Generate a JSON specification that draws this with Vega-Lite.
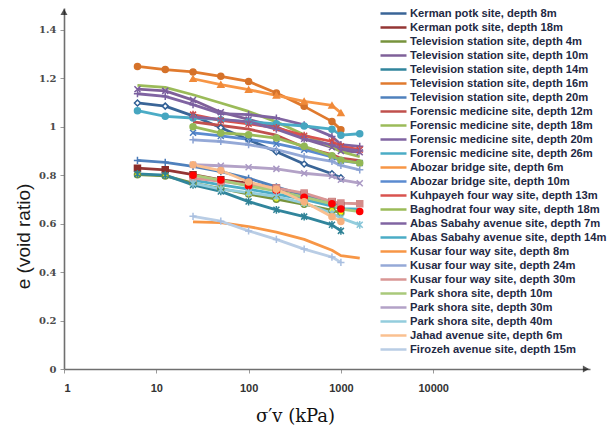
{
  "$schema": "https://vega.github.io/schema/vega-lite/v6.json",
  "autosize": {"type": "none"},
  "width": 526,
  "height": 361,
  "padding": {"left": 64, "top": 8, "right": 20, "bottom": 61},
  "background": "white",
  "config": {"view": {"stroke": null}},
  "data": {"values": [
    {"s":"Kerman potk site, depth 8m","p":6.25,"e":1.098},{"s":"Kerman potk site, depth 8m","p":12.5,"e":1.085},{"s":"Kerman potk site, depth 8m","p":25,"e":1.045},{"s":"Kerman potk site, depth 8m","p":50,"e":0.996},{"s":"Kerman potk site, depth 8m","p":100,"e":0.946},{"s":"Kerman potk site, depth 8m","p":200,"e":0.897},{"s":"Kerman potk site, depth 8m","p":400,"e":0.846},{"s":"Kerman potk site, depth 8m","p":800,"e":0.806},{"s":"Kerman potk site, depth 8m","p":1000,"e":0.789},
    {"s":"Kerman potk site, depth 18m","p":6.25,"e":0.829},{"s":"Kerman potk site, depth 18m","p":12.5,"e":0.822},{"s":"Kerman potk site, depth 18m","p":25,"e":0.802},{"s":"Kerman potk site, depth 18m","p":50,"e":0.781},{"s":"Kerman potk site, depth 18m","p":100,"e":0.767},{"s":"Kerman potk site, depth 18m","p":200,"e":0.747},{"s":"Kerman potk site, depth 18m","p":400,"e":0.72},{"s":"Kerman potk site, depth 18m","p":800,"e":0.69},{"s":"Kerman potk site, depth 18m","p":1000,"e":0.675},
    {"s":"Television station site, depth 4m","p":6.25,"e":0.802},{"s":"Television station site, depth 4m","p":12.5,"e":0.797},{"s":"Television station site, depth 4m","p":25,"e":0.767},{"s":"Television station site, depth 4m","p":50,"e":0.745},{"s":"Television station site, depth 4m","p":100,"e":0.722},{"s":"Television station site, depth 4m","p":200,"e":0.701},{"s":"Television station site, depth 4m","p":400,"e":0.68},{"s":"Television station site, depth 4m","p":800,"e":0.655},{"s":"Television station site, depth 4m","p":1000,"e":0.645},
    {"s":"Television station site, depth 10m","p":6.25,"e":1.155},{"s":"Television station site, depth 10m","p":12.5,"e":1.148},{"s":"Television station site, depth 10m","p":25,"e":1.11},{"s":"Television station site, depth 10m","p":50,"e":1.06},{"s":"Television station site, depth 10m","p":100,"e":1.03},{"s":"Television station site, depth 10m","p":200,"e":1.0},{"s":"Television station site, depth 10m","p":400,"e":0.95},{"s":"Television station site, depth 10m","p":800,"e":0.915},{"s":"Television station site, depth 10m","p":1000,"e":0.9},{"s":"Television station site, depth 10m","p":1600,"e":0.895},
    {"s":"Television station site, depth 14m","p":6.25,"e":0.805},{"s":"Television station site, depth 14m","p":12.5,"e":0.8},{"s":"Television station site, depth 14m","p":25,"e":0.76},{"s":"Television station site, depth 14m","p":50,"e":0.733},{"s":"Television station site, depth 14m","p":100,"e":0.691},{"s":"Television station site, depth 14m","p":200,"e":0.657},{"s":"Television station site, depth 14m","p":400,"e":0.629},{"s":"Television station site, depth 14m","p":800,"e":0.595},{"s":"Television station site, depth 14m","p":1000,"e":0.57},
    {"s":"Television station site, depth 16m","p":6.25,"e":1.249},{"s":"Television station site, depth 16m","p":12.5,"e":1.236},{"s":"Television station site, depth 16m","p":25,"e":1.226},{"s":"Television station site, depth 16m","p":50,"e":1.208},{"s":"Television station site, depth 16m","p":100,"e":1.187},{"s":"Television station site, depth 16m","p":200,"e":1.139},{"s":"Television station site, depth 16m","p":400,"e":1.084},{"s":"Television station site, depth 16m","p":800,"e":1.022},{"s":"Television station site, depth 16m","p":1000,"e":0.988},
    {"s":"Television station site, depth 20m","p":6.25,"e":0.861},{"s":"Television station site, depth 20m","p":12.5,"e":0.853},{"s":"Television station site, depth 20m","p":25,"e":0.836},{"s":"Television station site, depth 20m","p":50,"e":0.815},{"s":"Television station site, depth 20m","p":100,"e":0.787},{"s":"Television station site, depth 20m","p":200,"e":0.752},{"s":"Television station site, depth 20m","p":400,"e":0.717},{"s":"Television station site, depth 20m","p":800,"e":0.683},{"s":"Television station site, depth 20m","p":1000,"e":0.668},
    {"s":"Forensic medicine site, depth 12m","p":25,"e":1.02},{"s":"Forensic medicine site, depth 12m","p":50,"e":1.005},{"s":"Forensic medicine site, depth 12m","p":100,"e":0.99},{"s":"Forensic medicine site, depth 12m","p":200,"e":0.965},{"s":"Forensic medicine site, depth 12m","p":400,"e":0.915},{"s":"Forensic medicine site, depth 12m","p":800,"e":0.885},{"s":"Forensic medicine site, depth 12m","p":1000,"e":0.87},{"s":"Forensic medicine site, depth 12m","p":1600,"e":0.86},
    {"s":"Forensic medicine site, depth 18m","p":6.25,"e":1.171},{"s":"Forensic medicine site, depth 18m","p":12.5,"e":1.162},{"s":"Forensic medicine site, depth 18m","p":25,"e":1.132},{"s":"Forensic medicine site, depth 18m","p":50,"e":1.098},{"s":"Forensic medicine site, depth 18m","p":100,"e":1.063},{"s":"Forensic medicine site, depth 18m","p":200,"e":1.02},{"s":"Forensic medicine site, depth 18m","p":400,"e":0.967},{"s":"Forensic medicine site, depth 18m","p":800,"e":0.917},{"s":"Forensic medicine site, depth 18m","p":1000,"e":0.897},{"s":"Forensic medicine site, depth 18m","p":1600,"e":0.876},
    {"s":"Forensic medicine site, depth 20m","p":6.25,"e":1.136},{"s":"Forensic medicine site, depth 20m","p":12.5,"e":1.125},{"s":"Forensic medicine site, depth 20m","p":25,"e":1.091},{"s":"Forensic medicine site, depth 20m","p":50,"e":1.054},{"s":"Forensic medicine site, depth 20m","p":100,"e":1.05},{"s":"Forensic medicine site, depth 20m","p":200,"e":1.036},{"s":"Forensic medicine site, depth 20m","p":400,"e":1.008},{"s":"Forensic medicine site, depth 20m","p":800,"e":0.96},{"s":"Forensic medicine site, depth 20m","p":1000,"e":0.926},{"s":"Forensic medicine site, depth 20m","p":1600,"e":0.919},
    {"s":"Forensic medicine site, depth 26m","p":6.25,"e":1.066},{"s":"Forensic medicine site, depth 26m","p":12.5,"e":1.043},{"s":"Forensic medicine site, depth 26m","p":25,"e":1.036},{"s":"Forensic medicine site, depth 26m","p":50,"e":1.029},{"s":"Forensic medicine site, depth 26m","p":100,"e":1.02},{"s":"Forensic medicine site, depth 26m","p":200,"e":1.012},{"s":"Forensic medicine site, depth 26m","p":400,"e":1.003},{"s":"Forensic medicine site, depth 26m","p":800,"e":0.99},{"s":"Forensic medicine site, depth 26m","p":1000,"e":0.965},{"s":"Forensic medicine site, depth 26m","p":1600,"e":0.971},
    {"s":"Abozar bridge site, depth 6m","p":25,"e":1.198},{"s":"Abozar bridge site, depth 6m","p":50,"e":1.174},{"s":"Abozar bridge site, depth 6m","p":100,"e":1.153},{"s":"Abozar bridge site, depth 6m","p":200,"e":1.129},{"s":"Abozar bridge site, depth 6m","p":400,"e":1.105},{"s":"Abozar bridge site, depth 6m","p":800,"e":1.088},{"s":"Abozar bridge site, depth 6m","p":1000,"e":1.057},
    {"s":"Abozar bridge site, depth 10m","p":25,"e":0.975},{"s":"Abozar bridge site, depth 10m","p":50,"e":0.962},{"s":"Abozar bridge site, depth 10m","p":100,"e":0.948},{"s":"Abozar bridge site, depth 10m","p":200,"e":0.93},{"s":"Abozar bridge site, depth 10m","p":400,"e":0.905},{"s":"Abozar bridge site, depth 10m","p":800,"e":0.875},{"s":"Abozar bridge site, depth 10m","p":1000,"e":0.86},{"s":"Abozar bridge site, depth 10m","p":1600,"e":0.85},
    {"s":"Kuhpayeh four way site, depth 13m","p":25,"e":1.05},{"s":"Kuhpayeh four way site, depth 13m","p":50,"e":1.026},{"s":"Kuhpayeh four way site, depth 13m","p":100,"e":1.012},{"s":"Kuhpayeh four way site, depth 13m","p":200,"e":0.995},{"s":"Kuhpayeh four way site, depth 13m","p":400,"e":0.963},{"s":"Kuhpayeh four way site, depth 13m","p":800,"e":0.939},{"s":"Kuhpayeh four way site, depth 13m","p":1000,"e":0.919},{"s":"Kuhpayeh four way site, depth 13m","p":1600,"e":0.905},
    {"s":"Baghodrat four way site, depth 18m","p":25,"e":1.0},{"s":"Baghodrat four way site, depth 18m","p":50,"e":0.974},{"s":"Baghodrat four way site, depth 18m","p":100,"e":0.967},{"s":"Baghodrat four way site, depth 18m","p":200,"e":0.953},{"s":"Baghodrat four way site, depth 18m","p":400,"e":0.919},{"s":"Baghodrat four way site, depth 18m","p":800,"e":0.88},{"s":"Baghodrat four way site, depth 18m","p":1000,"e":0.862},{"s":"Baghodrat four way site, depth 18m","p":1600,"e":0.85},
    {"s":"Abas Sabahy avenue site, depth 7m","p":25,"e":1.04},{"s":"Abas Sabahy avenue site, depth 7m","p":50,"e":1.03},{"s":"Abas Sabahy avenue site, depth 7m","p":100,"e":1.02},{"s":"Abas Sabahy avenue site, depth 7m","p":200,"e":0.99},{"s":"Abas Sabahy avenue site, depth 7m","p":400,"e":0.95},{"s":"Abas Sabahy avenue site, depth 7m","p":800,"e":0.925},{"s":"Abas Sabahy avenue site, depth 7m","p":1000,"e":0.91},{"s":"Abas Sabahy avenue site, depth 7m","p":1600,"e":0.9},
    {"s":"Abas Sabahy avenue site, depth 14m","p":25,"e":0.78},{"s":"Abas Sabahy avenue site, depth 14m","p":50,"e":0.76},{"s":"Abas Sabahy avenue site, depth 14m","p":100,"e":0.742},{"s":"Abas Sabahy avenue site, depth 14m","p":200,"e":0.722},{"s":"Abas Sabahy avenue site, depth 14m","p":400,"e":0.7},{"s":"Abas Sabahy avenue site, depth 14m","p":800,"e":0.672},{"s":"Abas Sabahy avenue site, depth 14m","p":1000,"e":0.662},{"s":"Abas Sabahy avenue site, depth 14m","p":1600,"e":0.66},
    {"s":"Kusar four way site, depth 8m","p":25,"e":0.607},{"s":"Kusar four way site, depth 8m","p":50,"e":0.604},{"s":"Kusar four way site, depth 8m","p":100,"e":0.588},{"s":"Kusar four way site, depth 8m","p":200,"e":0.565},{"s":"Kusar four way site, depth 8m","p":400,"e":0.535},{"s":"Kusar four way site, depth 8m","p":800,"e":0.49},{"s":"Kusar four way site, depth 8m","p":1000,"e":0.468},{"s":"Kusar four way site, depth 8m","p":1600,"e":0.458},
    {"s":"Kusar four way site, depth 24m","p":25,"e":0.946},{"s":"Kusar four way site, depth 24m","p":50,"e":0.939},{"s":"Kusar four way site, depth 24m","p":100,"e":0.926},{"s":"Kusar four way site, depth 24m","p":200,"e":0.905},{"s":"Kusar four way site, depth 24m","p":400,"e":0.877},{"s":"Kusar four way site, depth 24m","p":800,"e":0.857},{"s":"Kusar four way site, depth 24m","p":1000,"e":0.84},{"s":"Kusar four way site, depth 24m","p":1600,"e":0.822},
    {"s":"Kusar four way site, depth 30m","p":25,"e":0.788},{"s":"Kusar four way site, depth 30m","p":50,"e":0.774},{"s":"Kusar four way site, depth 30m","p":100,"e":0.76},{"s":"Kusar four way site, depth 30m","p":200,"e":0.747},{"s":"Kusar four way site, depth 30m","p":400,"e":0.726},{"s":"Kusar four way site, depth 30m","p":800,"e":0.691},{"s":"Kusar four way site, depth 30m","p":1000,"e":0.685},{"s":"Kusar four way site, depth 30m","p":1600,"e":0.682},
    {"s":"Park shora site, depth 10m","p":25,"e":0.8},{"s":"Park shora site, depth 10m","p":50,"e":0.78},{"s":"Park shora site, depth 10m","p":100,"e":0.755},{"s":"Park shora site, depth 10m","p":200,"e":0.735},{"s":"Park shora site, depth 10m","p":400,"e":0.709},{"s":"Park shora site, depth 10m","p":800,"e":0.682},{"s":"Park shora site, depth 10m","p":1000,"e":0.66},{"s":"Park shora site, depth 10m","p":1600,"e":0.65},
    {"s":"Park shora site, depth 30m","p":25,"e":0.843},{"s":"Park shora site, depth 30m","p":50,"e":0.839},{"s":"Park shora site, depth 30m","p":100,"e":0.833},{"s":"Park shora site, depth 30m","p":200,"e":0.826},{"s":"Park shora site, depth 30m","p":400,"e":0.808},{"s":"Park shora site, depth 30m","p":800,"e":0.797},{"s":"Park shora site, depth 30m","p":1000,"e":0.781},{"s":"Park shora site, depth 30m","p":1600,"e":0.767},
    {"s":"Park shora site, depth 40m","p":25,"e":0.767},{"s":"Park shora site, depth 40m","p":50,"e":0.742},{"s":"Park shora site, depth 40m","p":100,"e":0.728},{"s":"Park shora site, depth 40m","p":200,"e":0.712},{"s":"Park shora site, depth 40m","p":400,"e":0.685},{"s":"Park shora site, depth 40m","p":800,"e":0.643},{"s":"Park shora site, depth 40m","p":1000,"e":0.623},{"s":"Park shora site, depth 40m","p":1600,"e":0.595},
    {"s":"Jahad avenue site, depth 6m","p":25,"e":0.843},{"s":"Jahad avenue site, depth 6m","p":50,"e":0.819},{"s":"Jahad avenue site, depth 6m","p":100,"e":0.772},{"s":"Jahad avenue site, depth 6m","p":200,"e":0.742},{"s":"Jahad avenue site, depth 6m","p":400,"e":0.69},{"s":"Jahad avenue site, depth 6m","p":800,"e":0.628},{"s":"Jahad avenue site, depth 6m","p":1000,"e":0.609},
    {"s":"Firozeh avenue site, depth 15m","p":25,"e":0.63},{"s":"Firozeh avenue site, depth 15m","p":50,"e":0.61},{"s":"Firozeh avenue site, depth 15m","p":100,"e":0.57},{"s":"Firozeh avenue site, depth 15m","p":200,"e":0.535},{"s":"Firozeh avenue site, depth 15m","p":400,"e":0.495},{"s":"Firozeh avenue site, depth 15m","p":800,"e":0.462},{"s":"Firozeh avenue site, depth 15m","p":1000,"e":0.44}
  ]},
  "layer": [
    {
      "mark": {"type": "line", "strokeWidth": 2.8, "strokeJoin": "round"},
      "encoding": {
        "x": {"field": "p", "type": "quantitative",
          "scale": {"type": "log", "domain": [1, 500000], "nice": false},
          "axis": {"values": [1, 10, 100, 1000, 10000], "format": "d", "grid": false,
            "domainColor": "#6f6f6f", "domainWidth": 1.6, "tickColor": "#9a9a9a", "tickSize": 4,
            "labelFont": "Liberation Sans", "labelFontWeight": "bold", "labelFontSize": 11, "labelColor": "#333333", "labelPadding": 9,
            "title": "σ′v (kPa)", "titleFont": "DejaVu Serif", "titleFontSize": 18, "titleFontWeight": "normal", "titleColor": "#111111",
            "titleX": 231, "titleY": 47, "titleAlign": "center", "titleBaseline": "middle"}},
        "y": {"field": "e", "type": "quantitative",
          "scale": {"domain": [0, 1.49], "nice": false, "zero": true},
          "axis": {"values": [0, 0.2, 0.4, 0.6, 0.8, 1, 1.2, 1.4], "format": "~g", "grid": false,
            "domainColor": "#6f6f6f", "domainWidth": 1.6, "tickColor": "#9a9a9a", "tickSize": 4,
            "labelFont": "DejaVu Serif", "labelFontWeight": "bold", "labelFontSize": 10, "labelColor": "#4a4a4a", "labelPadding": 4,
            "title": "e (void ratio)", "titleFont": "Liberation Sans", "titleFontSize": 19, "titleFontWeight": "normal", "titleColor": "#1a1a1a",
            "titleX": -41, "titleY": 228, "titleAngle": 270, "titleAlign": "center", "titleBaseline": "middle"}},
        "color": {"field": "s", "type": "nominal",
          "scale": {
            "domain": ["Kerman potk site, depth 8m","Kerman potk site, depth 18m","Television station site, depth 4m","Television station site, depth 10m","Television station site, depth 14m","Television station site, depth 16m","Television station site, depth 20m","Forensic medicine site, depth 12m","Forensic medicine site, depth 18m","Forensic medicine site, depth 20m","Forensic medicine site, depth 26m","Abozar bridge site, depth 6m","Abozar bridge site, depth 10m","Kuhpayeh four way site, depth 13m","Baghodrat four way site, depth 18m","Abas Sabahy avenue site, depth 7m","Abas Sabahy avenue site, depth 14m","Kusar four way site, depth 8m","Kusar four way site, depth 24m","Kusar four way site, depth 30m","Park shora site, depth 10m","Park shora site, depth 30m","Park shora site, depth 40m","Jahad avenue site, depth 6m","Firozeh avenue site, depth 15m"],
            "range": ["#3A6597","#943634","#77933C","#7F6099","#31859C","#E07A2E","#4F81BD","#C0504D","#9BBB59","#8064A2","#4BACC6","#F79646","#5B8BD0","#D9534F","#9BBB59","#8064A2","#4BACC6","#F79646","#95A9D7","#D99694","#A9C97A","#B3A2C7","#93CDDD","#FAC090","#B9CDE5"]},
          "legend": {"orient": "none", "legendX": 323, "legendY": -1, "title": null, "padding": 0, "offset": 0,
            "symbolType": "M-2.6,0L2.6,0", "symbolSize": 100, "symbolStrokeWidth": 2.5,
            "labelFont": "Liberation Sans", "labelFontSize": 11.2, "labelFontWeight": "bold", "labelColor": "#1F2A44",
            "labelLimit": 300, "labelOffset": 10, "rowPadding": 2}}
      }
    },
    {
      "transform": [{"filter": {"field": "s", "oneOf": ["Kerman potk site, depth 8m","Kerman potk site, depth 18m","Television station site, depth 4m","Television station site, depth 10m","Television station site, depth 14m","Television station site, depth 16m","Television station site, depth 20m","Forensic medicine site, depth 20m","Forensic medicine site, depth 26m","Abozar bridge site, depth 6m","Abozar bridge site, depth 10m","Kuhpayeh four way site, depth 13m","Baghodrat four way site, depth 18m","Abas Sabahy avenue site, depth 7m","Kusar four way site, depth 24m","Kusar four way site, depth 30m","Park shora site, depth 10m","Park shora site, depth 30m","Park shora site, depth 40m","Jahad avenue site, depth 6m","Firozeh avenue site, depth 15m"]}}],
      "mark": {"type": "point", "filled": true, "size": 36, "strokeWidth": 1.5, "opacity": 1},
      "encoding": {
        "x": {"field": "p", "type": "quantitative"},
        "y": {"field": "e", "type": "quantitative"},
        "shape": {"field": "s", "type": "nominal", "legend": null,
          "scale": {"domain": ["Kerman potk site, depth 8m","Kerman potk site, depth 18m","Television station site, depth 4m","Television station site, depth 10m","Television station site, depth 14m","Television station site, depth 16m","Television station site, depth 20m","Forensic medicine site, depth 20m","Forensic medicine site, depth 26m","Abozar bridge site, depth 6m","Abozar bridge site, depth 10m","Kuhpayeh four way site, depth 13m","Baghodrat four way site, depth 18m","Abas Sabahy avenue site, depth 7m","Kusar four way site, depth 24m","Kusar four way site, depth 30m","Park shora site, depth 10m","Park shora site, depth 30m","Park shora site, depth 40m","Jahad avenue site, depth 6m","Firozeh avenue site, depth 15m"],
            "range": ["diamond","square","circle","M-1,-1L1,1M-1,1L1,-1","M-1,-1L1,1M-1,1L1,-1M0,-1.3L0,1.3","circle","M-1.2,0L1.2,0M0,-1.2L0,1.2","M-1.2,0L1.2,0M0,-1.2L0,1.2","circle","triangle-up","M-1,-1L1,1M-1,1L1,-1","M-1,-1L1,1M-1,1L1,-1M0,-1.3L0,1.3","circle","M-1.2,0L1.2,0M0,-1.2L0,1.2","M-1.2,0L1.2,0M0,-1.2L0,1.2","square","circle","M-1,-1L1,1M-1,1L1,-1","M-1,-1L1,1M-1,1L1,-1M0,-1.3L0,1.3","circle","M-1.2,0L1.2,0M0,-1.2L0,1.2"]}},
        "stroke": {"field": "s", "type": "nominal", "legend": null,
          "scale": {"domain": ["Kerman potk site, depth 8m","Kerman potk site, depth 18m","Television station site, depth 4m","Television station site, depth 10m","Television station site, depth 14m","Television station site, depth 16m","Television station site, depth 20m","Forensic medicine site, depth 20m","Forensic medicine site, depth 26m","Abozar bridge site, depth 6m","Abozar bridge site, depth 10m","Kuhpayeh four way site, depth 13m","Baghodrat four way site, depth 18m","Abas Sabahy avenue site, depth 7m","Kusar four way site, depth 24m","Kusar four way site, depth 30m","Park shora site, depth 10m","Park shora site, depth 30m","Park shora site, depth 40m","Jahad avenue site, depth 6m","Firozeh avenue site, depth 15m"],
            "range": ["#2F5F95","#8C2D2A","#77933C","#7A5C9E","#2F8296","#D5722A","#4A7AB8","#7A60A0","#46A6C0","#F08A3A","#4A7CC0","#D04848","#93B855","#8064A2","#8AA2D4","#D38B89","#FF0000","#A998C4","#86C5D8","#F6B07E","#A9BFE0"]}},
        "fill": {"field": "s", "type": "nominal", "legend": null,
          "scale": {"domain": ["Kerman potk site, depth 8m","Kerman potk site, depth 18m","Television station site, depth 4m","Television station site, depth 10m","Television station site, depth 14m","Television station site, depth 16m","Television station site, depth 20m","Forensic medicine site, depth 20m","Forensic medicine site, depth 26m","Abozar bridge site, depth 6m","Abozar bridge site, depth 10m","Kuhpayeh four way site, depth 13m","Baghodrat four way site, depth 18m","Abas Sabahy avenue site, depth 7m","Kusar four way site, depth 24m","Kusar four way site, depth 30m","Park shora site, depth 10m","Park shora site, depth 30m","Park shora site, depth 40m","Jahad avenue site, depth 6m","Firozeh avenue site, depth 15m"],
            "range": ["#FFFFFF","#8C2D2A","#FFFF00","#7A5C9E","#2F8296","#D5722A","#4A7AB8","#7A60A0","#46A6C0","#F08A3A","#4A7CC0","#D04848","#93B855","#8064A2","#8AA2D4","#D38B89","#FF0000","#A998C4","#86C5D8","#F6B07E","#A9BFE0"]}}
      }
    },
    {
      "data": {"values": [{"p": 1, "e": 1.474}]},
      "mark": {"type": "point", "shape": "triangle-up", "filled": true, "color": "#111111", "size": 50},
      "encoding": {"x": {"field": "p", "type": "quantitative"}, "y": {"field": "e", "type": "quantitative"}}
    },
    {
      "data": {"values": [{"p": 452000, "e": 0}]},
      "mark": {"type": "point", "shape": "triangle-right", "filled": true, "color": "#111111", "size": 50},
      "encoding": {"x": {"field": "p", "type": "quantitative"}, "y": {"field": "e", "type": "quantitative"}}
    }
  ]
}
